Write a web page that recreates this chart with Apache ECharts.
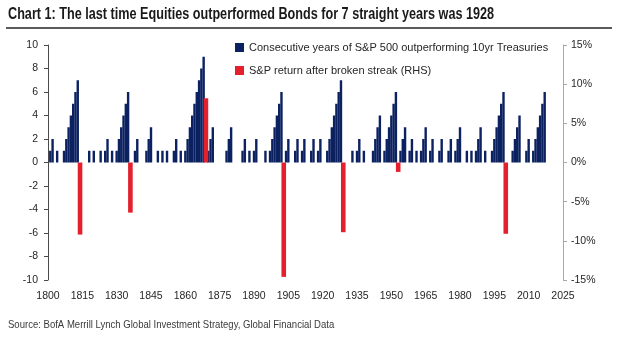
<!DOCTYPE html>
<html>
<head>
<meta charset="utf-8">
<script src="https://cdn.jsdelivr.net/npm/echarts@6/dist/echarts.min.js"></script>
<style>
  html, body { margin: 0; padding: 0; background: #ffffff; }
  #chart { width: 620px; height: 344px; }
</style>
</head>
<body>
<div id="chart"></div>
<script>
// Consecutive years of S&P 500 outperforming 10yr Treasuries, one value per year from firstYear
const firstYear = 1800;
const streakLengths = [
  // 1800-1809
  0, 1, 2, 0, 1, 0, 0, 1, 2, 3,
  // 1810-1819
  4, 5, 6, 7, 0, 0, 0, 0, 1, 0,
  // 1820-1829
  1, 0, 0, 1, 0, 1, 2, 0, 1, 0,
  // 1830-1839
  1, 2, 3, 4, 5, 6, 0, 0, 1, 2,
  // 1840-1849
  0, 0, 0, 1, 2, 3, 0, 0, 1, 0,
  // 1850-1859
  1, 0, 1, 0, 0, 1, 2, 0, 1, 0,
  // 1860-1869
  1, 2, 3, 4, 5, 6, 7, 8, 9, 0,
  // 1870-1879
  1, 2, 3, 0, 0, 0, 0, 0, 1, 2,
  // 1880-1889
  3, 0, 0, 0, 0, 1, 2, 0, 1, 0,
  // 1890-1899
  1, 2, 0, 0, 0, 1, 0, 1, 2, 3,
  // 1900-1909
  4, 5, 6, 0, 1, 2, 0, 0, 1, 2,
  // 1910-1919
  0, 1, 2, 0, 0, 1, 2, 0, 1, 2,
  // 1920-1929
  0, 0, 1, 2, 3, 4, 5, 6, 7, 0,
  // 1930-1939
  0, 0, 0, 1, 0, 1, 2, 0, 1, 0,
  // 1940-1949
  0, 0, 1, 2, 3, 4, 0, 1, 2, 3,
  // 1950-1959
  4, 5, 6, 0, 1, 2, 3, 0, 1, 2,
  // 1960-1969
  0, 1, 0, 1, 2, 3, 0, 1, 2, 0,
  // 1970-1979
  0, 1, 2, 0, 0, 1, 2, 0, 1, 2,
  // 1980-1989
  3, 0, 0, 1, 0, 1, 0, 1, 2, 3,
  // 1990-1999
  0, 1, 0, 0, 1, 2, 3, 4, 5, 6,
  // 2000-2009
  0, 0, 0, 1, 2, 3, 4, 0, 0, 1,
  // 2010-2017
  2, 0, 1, 2, 3, 4, 5, 6
];

// S&P return in the year a streak was broken (%, right-hand scale)
const breakYears   = [1814, 1836, 1869, 1903, 1929, 1953, 2000];
const breakReturns = [-9.2, -6.4, 8.2, -14.6, -8.9, -1.2, -9.1];

// Axis ranges and steps
const yearMin = 1800, yearMax = 2025, yearStep = 15;
const countMin = -10, countMax = 10, countStep = 2;
const pctMin = -15, pctMax = 15, pctStep = 5;

const seriesNames = [
  'Consecutive years of S&P 500 outperforming 10yr Treasuries',
  'S&P return after broken streak (RHS)'
];
const titleText = 'Chart 1: The last time Equities outperformed Bonds for 7 straight years was 1928';
const sourceText = 'Source: BofA Merrill Lynch Global Investment Strategy, Global Financial Data';

const NAVY = '#0c2160';
const RED = '#e3202c';
const LABEL = '#262626';
const SANS = 'Liberation Sans, Arial, sans-serif';

const streakData = streakLengths.map((v, i) => [firstYear + i, v]);
const breakData = breakYears.map((y, i) => [y, breakReturns[i]]);

const chart = echarts.init(document.getElementById('chart'), null, { renderer: 'canvas' });

const xBase = {
  type: 'value',
  min: yearMin,
  max: yearMax,
  interval: yearStep,
  splitLine: { show: false },
  axisTick: { show: false },
  axisLine: { show: false }
};

chart.setOption({
  animation: false,
  backgroundColor: '#ffffff',
  graphic: [
    {
      // condensed bold heading
      type: 'text',
      x: 8,
      y: 7,
      scaleX: 0.79,
      style: {
        text: titleText,
        fontFamily: SANS,
        fontWeight: 'bold',
        fontSize: 16,
        fill: '#1a1a1a'
      }
    },
    {
      type: 'line',
      shape: { x1: 6, y1: 28, x2: 612, y2: 28 },
      style: { stroke: '#5a5a5a', lineWidth: 2 }
    },
    {
      type: 'text',
      x: 8,
      y: 319,
      scaleX: 0.83,
      style: {
        text: sourceText,
        fontFamily: SANS,
        fontSize: 11.5,
        fill: '#3a3a3a'
      }
    }
  ],
  legend: {
    orient: 'vertical',
    left: 235,
    top: 42,
    padding: 0,
    itemGap: 12,
    itemWidth: 9,
    itemHeight: 9,
    icon: 'rect',
    textStyle: { fontFamily: SANS, fontSize: 11, color: LABEL },
    data: seriesNames
  },
  grid: { left: 48, right: 57, top: 45, bottom: 64 },
  xAxis: [
    Object.assign({}, xBase, {
      position: 'bottom',
      axisLabel: {
        margin: 11,
        fontFamily: SANS,
        fontSize: 10.5,
        color: LABEL,
        formatter: (v) => String(v)
      }
    }),
    Object.assign({}, xBase, { show: false })
  ],
  yAxis: [
    {
      type: 'value',
      position: 'left',
      min: countMin,
      max: countMax,
      interval: countStep,
      splitLine: { show: false },
      axisLine: { show: true, onZero: false, lineStyle: { color: '#4a4a4a', width: 1 } },
      axisTick: { show: true, length: 4, lineStyle: { color: '#4a4a4a' } },
      axisLabel: {
        margin: 10,
        fontFamily: SANS,
        fontSize: 10.5,
        color: LABEL
      }
    },
    {
      type: 'value',
      position: 'right',
      min: pctMin,
      max: pctMax,
      interval: pctStep,
      splitLine: { show: false },
      axisLine: { show: true, onZero: false, lineStyle: { color: '#a8a8a8', width: 1 } },
      axisTick: { show: true, length: 4, lineStyle: { color: '#a8a8a8' } },
      axisLabel: {
        margin: 8,
        formatter: '{value}%',
        fontFamily: SANS,
        fontSize: 10.5,
        color: LABEL
      }
    }
  ],
  series: [
    {
      name: seriesNames[0],
      type: 'bar',
      xAxisIndex: 0,
      yAxisIndex: 0,
      barWidth: 2.4,
      itemStyle: { color: NAVY },
      data: streakData,
      z: 2
    },
    {
      name: seriesNames[1],
      type: 'bar',
      xAxisIndex: 1,
      yAxisIndex: 1,
      barWidth: 4.6,
      itemStyle: { color: RED },
      data: breakData,
      z: 3
    }
  ]
});
</script>
</body>
</html>
